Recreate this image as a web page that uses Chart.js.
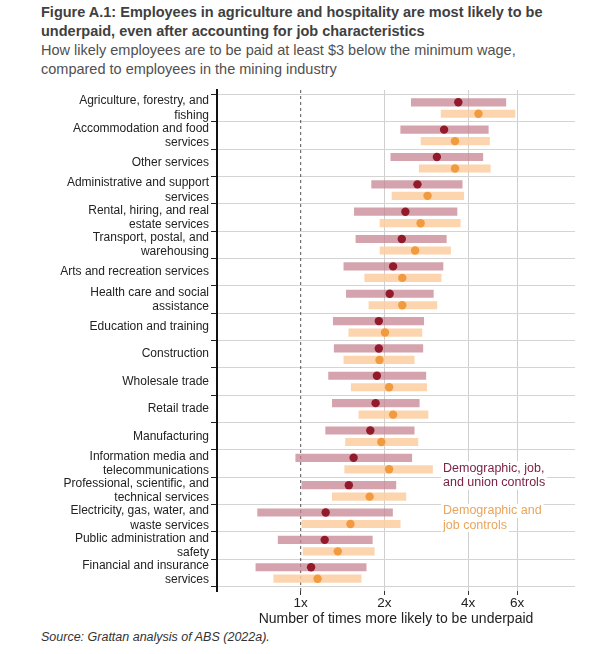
<!DOCTYPE html>
<html>
<head>
<meta charset="utf-8">
<script src="https://cdn.jsdelivr.net/npm/chart.js@4"></script>
<style>
  body { margin: 0; background: #fff; font-family: "Liberation Sans", Arial, sans-serif; }
  #title { position: absolute; left: 41px; top: 3px; font-size: 14.5px; font-weight: bold; color: #404040; line-height: 19px; }
  #subtitle { position: absolute; left: 41px; top: 41px; font-size: 14.5px; color: #505050; line-height: 19px; }
  #wrap { position: absolute; left: 0; top: 84px; width: 600px; height: 544px; }
  #source { position: absolute; left: 41px; top: 630px; font-size: 12.5px; font-style: italic; color: #333; }
</style>
</head>
<body>
<div id="title">Figure A.1: Employees in agriculture and hospitality are most likely to be<br>underpaid, even after accounting for job characteristics</div>
<div id="subtitle">How likely employees are to be paid at least $3 below the minimum wage,<br>compared to employees in the mining industry</div>
<div id="wrap"><canvas id="chart"></canvas></div>
<div id="source">Source: Grattan analysis of ABS (2022a).</div>
<script>
// Industries, top to bottom
const industries = [
  ['Agriculture, forestry, and', 'fishing'],
  ['Accommodation and food', 'services'],
  'Other services',
  ['Administrative and support', 'services'],
  ['Rental, hiring, and real', 'estate services'],
  ['Transport, postal, and', 'warehousing'],
  'Arts and recreation services',
  ['Health care and social', 'assistance'],
  'Education and training',
  'Construction',
  'Wholesale trade',
  'Retail trade',
  'Manufacturing',
  ['Information media and', 'telecommunications'],
  ['Professional, scientific, and', 'technical services'],
  ['Electricity, gas, water, and', 'waste services'],
  ['Public administration and', 'safety'],
  ['Financial and insurance', 'services']
];

// Demographic, job, and union controls
const unionLow  = [2.50, 2.29, 2.11, 1.80, 1.56, 1.58, 1.43, 1.46, 1.31, 1.32, 1.26, 1.30, 1.23, 0.96, 1.01, 0.70, 0.83, 0.69];
const unionEst  = [3.69, 3.28, 3.09, 2.63, 2.38, 2.31, 2.15, 2.09, 1.91, 1.91, 1.88, 1.86, 1.78, 1.55, 1.49, 1.23, 1.22, 1.09];
const unionHigh = [5.47, 4.73, 4.52, 3.81, 3.65, 3.34, 3.25, 3.00, 2.77, 2.75, 2.82, 2.67, 2.56, 2.51, 2.20, 2.14, 1.81, 1.72];

// Demographic and job controls
const jobLow  = [3.20, 2.71, 2.67, 2.13, 1.93, 1.93, 1.70, 1.76, 1.49, 1.43, 1.52, 1.62, 1.45, 1.44, 1.30, 1.01, 1.02, 0.80];
const jobEst  = [4.36, 3.59, 3.59, 2.86, 2.70, 2.58, 2.32, 2.32, 2.01, 1.92, 2.08, 2.15, 1.95, 2.08, 1.77, 1.51, 1.36, 1.15];
const jobHigh = [5.90, 4.78, 4.81, 3.86, 3.75, 3.46, 3.20, 3.09, 2.73, 2.56, 2.84, 2.87, 2.64, 2.98, 2.39, 2.28, 1.84, 1.65];

const xTicks = [1, 2, 4, 6];

const DARK = '#931a2b';
const DARK_BAR = 'rgba(196, 128, 142, 0.72)';
const ORANGE = '#f29a3e';
const ORANGE_BAR = 'rgba(251, 205, 160, 0.85)';
const OFF = 0.21;

const unionBars = industries.map((_, i) => ({ x: [unionLow[i], unionHigh[i]], y: i - OFF }));
const jobBars = industries.map((_, i) => ({ x: [jobLow[i], jobHigh[i]], y: i + OFF }));
const unionDots = industries.map((_, i) => ({ x: unionEst[i], y: i - OFF }));
const jobDots = industries.map((_, i) => ({ x: jobEst[i], y: i + OFF }));

// dashed reference line at 1x plus the in-chart legend text
const extras = {
  id: 'extras',
  beforeDatasetsDraw(chart) {
    const { ctx, chartArea, scales } = chart;
    const px = scales.x.getPixelForValue(1);
    ctx.save();
    ctx.strokeStyle = '#555';
    ctx.lineWidth = 1;
    ctx.setLineDash([3, 3]);
    ctx.beginPath();
    ctx.moveTo(px, chartArea.top);
    ctx.lineTo(px, chartArea.bottom);
    ctx.stroke();
    ctx.restore();
  },
  afterDatasetsDraw(chart) {
    const { ctx, scales } = chart;
    const notes = [
      { text: 'Demographic, job,', row: 13.17, color: '#7d2346' },
      { text: 'and union controls', row: 13.7, color: '#7d2346' },
      { text: 'Demographic and', row: 14.73, color: '#e9a55c' },
      { text: 'job controls', row: 15.25, color: '#e9a55c' }
    ];
    const x0 = scales.x.getPixelForValue(3.25);
    ctx.save();
    ctx.font = '12.5px "Liberation Sans", Arial, sans-serif';
    ctx.textBaseline = 'middle';
    notes.forEach(n => {
      const y = scales.y.getPixelForValue(n.row);
      const w = ctx.measureText(n.text).width;
      ctx.fillStyle = '#fff';
      ctx.fillRect(x0 - 2, y - 7, w + 4, 14);
      ctx.fillStyle = n.color;
      ctx.fillText(n.text, x0, y);
    });
    ctx.restore();
  }
};

new Chart(document.getElementById('chart'), {
  type: 'bar',
  data: {
    datasets: [
      { type: 'scatter', data: unionDots, backgroundColor: DARK, borderColor: DARK, pointRadius: 4.2, borderWidth: 0, order: 0 },
      { type: 'scatter', data: jobDots, backgroundColor: ORANGE, borderColor: ORANGE, pointRadius: 4.2, borderWidth: 0, order: 0 },
      { data: unionBars, backgroundColor: DARK_BAR, barThickness: 7.5, grouped: false, order: 1 },
      { data: jobBars, backgroundColor: ORANGE_BAR, barThickness: 7.5, grouped: false, order: 1 }
    ]
  },
  options: {
    indexAxis: 'y',
    responsive: true,
    maintainAspectRatio: false,
    animation: false,
    layout: { padding: { top: 6, right: 25, left: 0, bottom: 0 } },
    plugins: {
      legend: { display: false },
      tooltip: { enabled: false }
    },
    scales: {
      x: {
        type: 'logarithmic',
        min: 0.5,
        max: 9.7,
        afterBuildTicks: (scale) => { scale.ticks = xTicks.map(v => ({ value: v })); },
        ticks: {
          callback: (val) => val + 'x',
          color: '#222',
          font: { family: '"Liberation Sans", Arial, sans-serif', size: 13.5 },
          padding: 0,
          maxRotation: 0
        },
        grid: {
          color: (c) => (c.tick && c.tick.value === 1) ? 'rgba(0,0,0,0)' : '#cfcfcf',
          tickColor: '#333',
          tickLength: 4
        },
        border: { display: false },
        title: {
          display: true,
          text: 'Number of times more likely to be underpaid',
          color: '#222',
          font: { family: '"Liberation Sans", Arial, sans-serif', size: 14 },
          padding: { top: 0, bottom: 0 }
        }
      },
      y: {
        type: 'linear',
        reverse: true,
        offset: false,
        min: -0.66,
        max: 17.66,
        afterBuildTicks: (scale) => { scale.ticks = industries.map((_, i) => ({ value: i })); },
        afterFit: (scale) => {
          scale.width = 217;
          scale.paddingTop = 0;
          scale.paddingBottom = 0;
        },
        ticks: {
          callback: (val) => industries[val],
          color: '#222',
          font: { family: '"Liberation Sans", Arial, sans-serif', size: 12 },
          padding: 2,
          autoSkip: false
        },
        grid: {
          color: '#d4d4d4',
          tickColor: '#222',
          tickLength: 6
        },
        border: { display: true, color: '#111', width: 2 }
      }
    }
  },
  plugins: [extras]
});
</script>
</body>
</html>
